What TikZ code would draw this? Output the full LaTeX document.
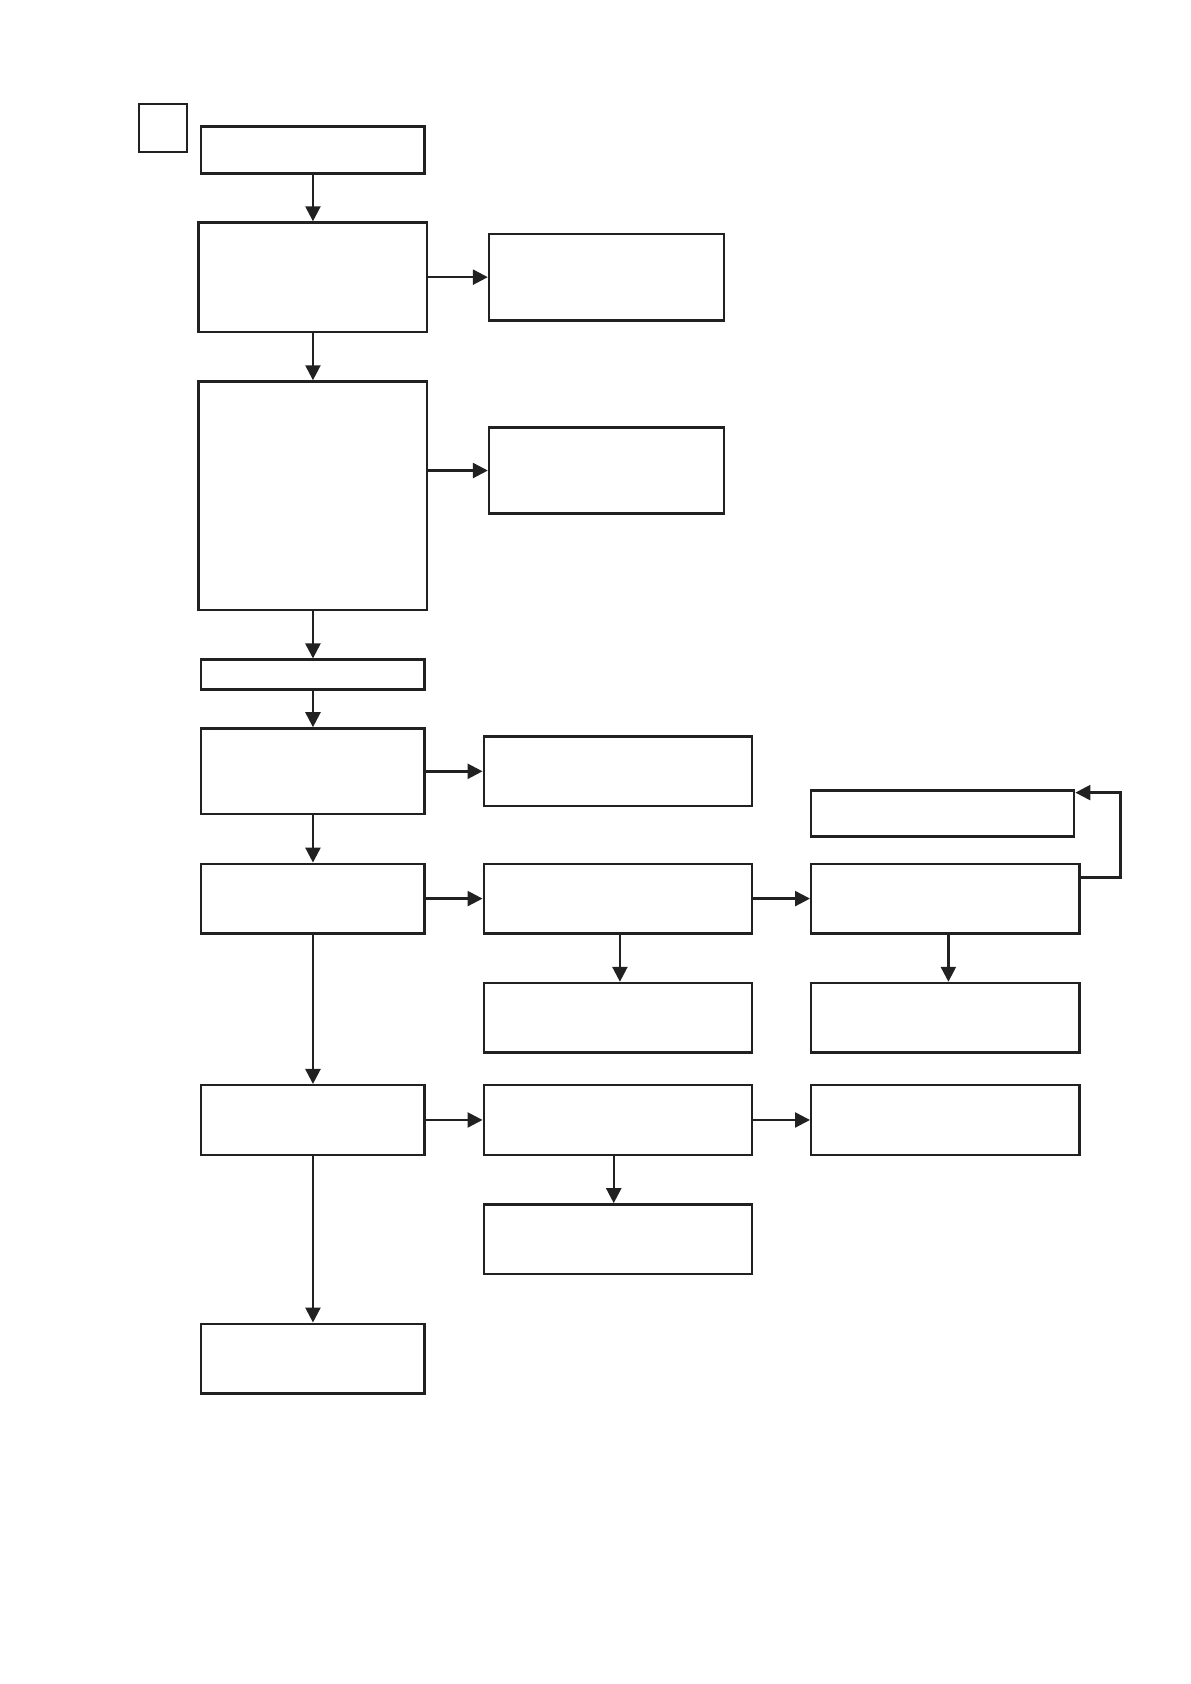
\documentclass[tikz,border=0pt]{standalone}
\usepackage{tikz}
\usetikzlibrary{arrows.meta,positioning}

\begin{document}
\begin{tikzpicture}[->,>={Triangle[length=7.5pt,width=7.5pt]},auto,node distance=23.6pt,
line width=1.2pt,black!87]
\tikzstyle{box}=[draw,rectangle,inner sep=0pt,minimum width=134.2pt,minimum height=34.8pt]
\tikzstyle{left box}=[box,minimum width=111.7pt]

\useasboundingbox (-156.5pt,75.1pt) rectangle (438.9pt,-767pt);

\node[left box,minimum height=23.5pt]  (A)                     {};
\node[left box,minimum width=114.3pt,minimum height=54.7pt]  (B) [below=23.2pt of A] {};
\node[left box,minimum width=114.3pt,minimum height=114.3pt] (C) [below=of B] {};
\node[left box,minimum height=14.9pt]  (D) [below=of C]        {};
\node[left box,minimum height=42.9pt]  (E) [below=18.3pt of D] {};
\node[left box]                        (F) [below=of E]        {};
\node[left box]                        (G) [below=74.7pt of F] {};
\node[left box]                        (H) [below=83.3pt of G] {};
\node[box,line width=1pt,minimum width=24.3pt,minimum height=23.7pt] (Q)
     [left=5.9pt of A.north west,anchor=north east,yshift=11.1pt] {};

\node[box,minimum width=117.6pt,minimum height=43.4pt] (B1) [right=29.7pt of B] {};
\node[box,minimum width=117.6pt,minimum height=42.9pt] (C1) [right=29.7pt of C,yshift=12.6pt] {};
\node[box]  (E1)  [right=28.35pt of E]  {};
\node[box]  (F1)  [right=28.35pt of F]  {};
\node[box]  (F2)  [right=28.35pt of F1] {};
\node[box]  (F1b) [below=of F1]         {};
\node[box]  (F2b) [below=of F2]         {};
\node[box,minimum width=131.5pt,minimum height=23pt] (T)
     [above=12.4pt of F2.north west,anchor=south west] {};
\node[box]  (G1)  [right=28.35pt of G]  {};
\node[box]  (G2)  [right=28.35pt of G1] {};
\node[box]  (G1b) [below=of G1]         {};

\path (A) edge (B)
(B) edge (C)
(C) edge (D)
(D) edge (E)
(E) edge (F)
(F) edge (G)
(G) edge (H)
(B) edge (B1)
(C.east |- C1) edge (C1)
(E) edge (E1)
(F) edge (F1)
(F1) edge (F2)
([xshift=1pt]F1.south) edge ([xshift=1pt]F1b.north)
([xshift=1.5pt]F2.south) edge ([xshift=1.5pt]F2b.north)
(G) edge (G1)
(G1) edge (G2)
([xshift=-2.1pt]G1.south) edge ([xshift=-2.1pt]G1b.north);

\draw ([yshift=10.5pt]F2.east) -- ++(19.9pt,0) |- ([yshift=10.5pt]T.east);
\end{tikzpicture}
\end{document}
